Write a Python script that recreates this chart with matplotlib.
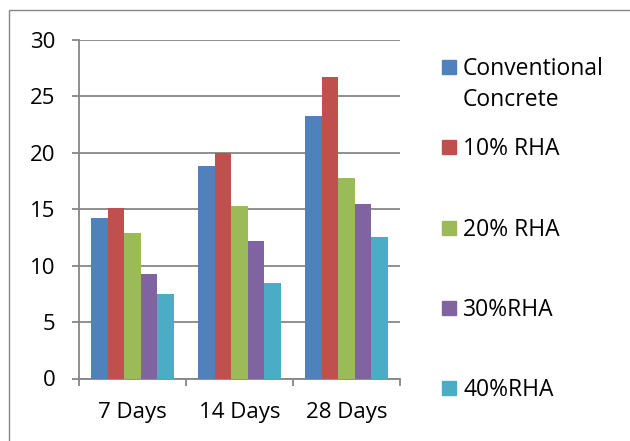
import numpy as np
import matplotlib
matplotlib.use("Agg")
import matplotlib.pyplot as plt
from matplotlib.patches import Rectangle

plt.rcParams['font.family'] = ['Open Sans', 'DejaVu Sans']

# compressive strength by curing age
ages = ['7 Days', '14 Days', '28 Days']
mixes = ['Conventional\nConcrete', '10% RHA', '20% RHA', '30%RHA', '40%RHA']
conventional = [14.2, 18.8, 23.3]
rha_10 = [15.1, 20.0, 26.7]
rha_20 = [12.9, 15.3, 17.8]
rha_30 = [9.3, 12.2, 15.5]
rha_40 = [7.5, 8.5, 12.5]
colors = ['#4F81BD', '#C0504D', '#9BBB59', '#8064A2', '#4BACC6']

series = [conventional, rha_10, rha_20, rha_30, rha_40]
grid_col = '#868686'

fig = plt.figure(figsize=(6.3, 4.41), dpi=100)
ax = fig.add_axes([79 / 630, 1 - 378.5 / 441, 321 / 630, 338.5 / 441])

x = np.arange(len(ages))
w = 1 / 6.5
for i, vals in enumerate(series):
    ax.bar(x + (i - 2) * w, vals, width=w, color=colors[i], zorder=3)

ax.set_xlim(-0.5, 2.5)
ax.set_ylim(0, 30)
ax.set_yticks(range(0, 31, 5))
ax.yaxis.grid(True, color=grid_col, linewidth=1.3, zorder=0)

# boundaries carry the tick marks, centres carry the labels
ax.set_xticks([-0.5, 0.5, 1.5, 2.5])
ax.set_xticklabels([])
ax.set_xticks(x, minor=True)
ax.set_xticklabels(ages, minor=True)
ax.tick_params(axis='x', which='minor', length=0, pad=17, labelsize=16)
ax.tick_params(axis='x', which='major', length=5, width=1.3, color=grid_col)
ax.tick_params(axis='y', length=5, width=1.3, color=grid_col, pad=12, labelsize=16)

for s in ['top', 'right']:
    ax.spines[s].set_visible(False)
for s in ['left', 'bottom']:
    ax.spines[s].set_color(grid_col)
    ax.spines[s].set_linewidth(1.3)

# legend drawn by hand so entries keep even spacing
legend_y = [67, 147, 228, 308, 388]
for label, c, yp in zip(mixes, colors, legend_y):
    fig.add_artist(Rectangle((442 / 630, 1 - (yp + 7) / 441), 14 / 630, 14 / 441,
                             color=c, transform=fig.transFigure))
    first, *rest = label.split('\n')
    fig.text(463 / 630, 1 - (yp + 8) / 441, first, fontsize=16.5,
             va='baseline', ha='left')
    for k, line in enumerate(rest, start=1):
        fig.text(463 / 630, 1 - (yp + 8 + 31 * k) / 441, line, fontsize=16.5,
                 va='baseline', ha='left')

# chart area border
fig.add_artist(Rectangle((9 / 630, -0.1), 1.2, 1 - 10 / 441 + 0.1, fill=False,
                         edgecolor=grid_col, linewidth=1.0, transform=fig.transFigure))

fig.savefig('out.png', dpi=100)
